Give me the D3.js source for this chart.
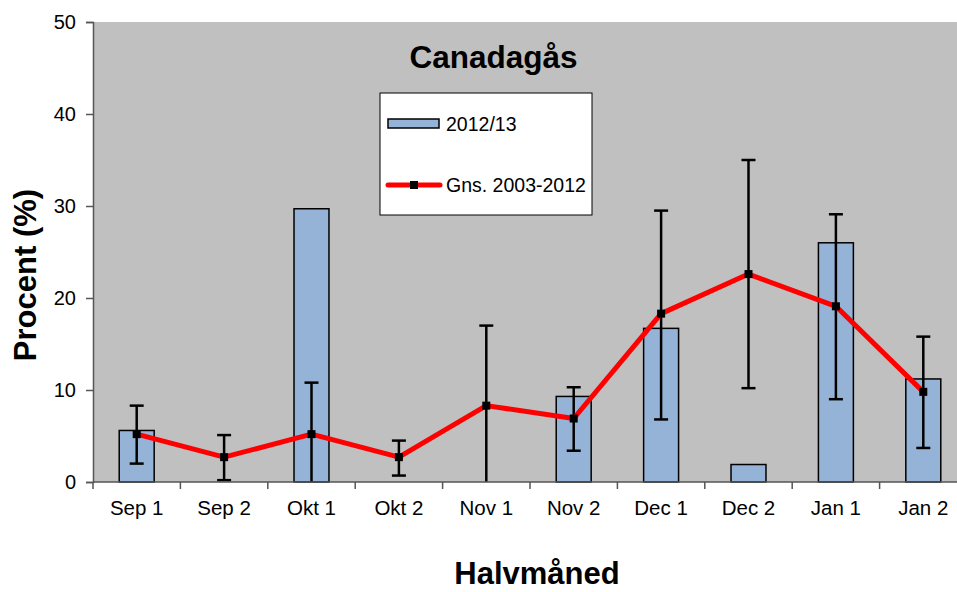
<!DOCTYPE html>
<html>
<head>
<meta charset="utf-8">
<script src="https://cdn.jsdelivr.net/npm/d3@7"></script>
<style>
  body { margin: 0; background: #fff; }
  svg { display: block; font-family: "Liberation Sans", Arial, sans-serif; }
</style>
</head>
<body>
<svg id="chart" width="957" height="592"></svg>
<script>
// chart data
const categories = ["Sep 1", "Sep 2", "Okt 1", "Okt 2", "Nov 1", "Nov 2", "Dec 1", "Dec 2", "Jan 1", "Jan 2"];
const season = [5.6, 0, 29.7, 0, 0, 9.3, 16.7, 1.9, 26.0, 11.2];
const average = [5.2, 2.7, 5.2, 2.7, 8.3, 6.9, 18.3, 22.6, 19.1, 9.8];
const errLow = [2.0, 0.2, 0.0, 0.7, 0.0, 3.4, 6.8, 10.2, 9.0, 3.7];
const errHigh = [8.3, 5.1, 10.8, 4.5, 17.0, 10.3, 29.5, 35.0, 29.1, 15.8];
const yTicks = [0, 10, 20, 30, 40, 50];

const svg = d3.select("#chart");
const margin = { left: 93, top: 22, right: -10, bottom: 110 };
const width = 957 - margin.left - margin.right;
const height = 592 - margin.top - margin.bottom;

const x = d3.scaleBand().domain(categories).range([0, width]).paddingInner(0.6).paddingOuter(0.3);
const xc = (c) => x(c) + x.bandwidth() / 2;
const y = d3.scaleLinear().domain([0, 50]).range([height, 0]);

const g = svg.append("g").attr("transform", `translate(${margin.left},${margin.top})`);

// plot background
g.append("rect")
  .attr("width", width)
  .attr("height", height)
  .attr("fill", "#c0c0c0");

// bars
g.selectAll(".bar")
  .data(categories)
  .enter()
  .filter((d, i) => season[i] > 0)
  .append("rect")
  .attr("class", "bar")
  .attr("x", (d) => x(d))
  .attr("width", x.bandwidth())
  .attr("y", (d) => y(season[categories.indexOf(d)]))
  .attr("height", (d) => height - y(season[categories.indexOf(d)]))
  .attr("fill", "#95b3d7")
  .attr("stroke", "#000")
  .attr("stroke-width", 1.5);

// error bars
const cap = 7;
const errs = g.selectAll(".err").data(categories).enter().append("g").attr("class", "err");
errs.append("line")
  .attr("x1", xc).attr("x2", xc)
  .attr("y1", (d, i) => y(errLow[i]))
  .attr("y2", (d, i) => y(errHigh[i]))
  .attr("stroke", "#000").attr("stroke-width", 2.5);
errs.append("line")
  .attr("x1", (d) => xc(d) - cap).attr("x2", (d) => xc(d) + cap)
  .attr("y1", (d, i) => y(errHigh[i])).attr("y2", (d, i) => y(errHigh[i]))
  .attr("stroke", "#000").attr("stroke-width", 2.5);
errs.filter((d, i) => errLow[i] > 0).append("line")
  .attr("x1", (d) => xc(d) - cap).attr("x2", (d) => xc(d) + cap)
  .attr("y1", (d) => y(errLow[categories.indexOf(d)]))
  .attr("y2", (d) => y(errLow[categories.indexOf(d)]))
  .attr("stroke", "#000").attr("stroke-width", 2.5);

// average line
const line = d3.line().x((d, i) => xc(categories[i])).y((d) => y(d));
g.append("path")
  .datum(average)
  .attr("d", line)
  .attr("fill", "none")
  .attr("stroke", "#ff0000")
  .attr("stroke-width", 5)
  .attr("stroke-linejoin", "round");

g.selectAll(".marker")
  .data(average)
  .enter()
  .append("rect")
  .attr("x", (d, i) => xc(categories[i]) - 4)
  .attr("y", (d) => y(d) - 4)
  .attr("width", 8)
  .attr("height", 8)
  .attr("fill", "#000");

// y axis
const yAxis = g.append("g").call(d3.axisLeft(y).tickValues(yTicks).tickSize(7).tickPadding(10));
yAxis.select(".domain").attr("stroke", "#555").attr("stroke-width", 1.5);
yAxis.selectAll(".tick line").attr("stroke", "#555").attr("stroke-width", 1.5);
yAxis.selectAll("text").attr("font-size", 20).attr("fill", "#000").attr("font-family", "Liberation Sans, Arial, sans-serif");

// x axis with ticks on category boundaries
const xAxisG = g.append("g").attr("transform", `translate(0,${height})`);
xAxisG.append("line").attr("x1", 0).attr("x2", width).attr("stroke", "#555").attr("stroke-width", 1.5);
const step = x.step();
xAxisG.selectAll(".xt")
  .data(d3.range(categories.length + 1))
  .enter()
  .append("line")
  .attr("x1", (i) => i * step).attr("x2", (i) => i * step)
  .attr("y1", 0).attr("y2", 7)
  .attr("stroke", "#555").attr("stroke-width", 1.5);
xAxisG.selectAll(".xl")
  .data(categories)
  .enter()
  .append("text")
  .attr("x", xc)
  .attr("y", 33)
  .attr("text-anchor", "middle")
  .attr("font-size", 20.5)
  .text((d) => d);

// title
g.append("text")
  .attr("x", 493.5 - margin.left)
  .attr("y", 68 - margin.top)
  .attr("text-anchor", "middle")
  .attr("font-size", 31.5)
  .attr("font-weight", "bold")
  .text("Canadagås");

// legend
const lg = svg.append("g").attr("transform", "translate(380,93)");
lg.append("rect").attr("width", 212).attr("height", 122).attr("fill", "#fff").attr("stroke", "#000").attr("stroke-width", 1);
lg.append("rect").attr("x", 8).attr("y", 26).attr("width", 51).attr("height", 9)
  .attr("fill", "#95b3d7").attr("stroke", "#000").attr("stroke-width", 1.5);
lg.append("text").attr("x", 66).attr("y", 38).attr("font-size", 19.5).text("2012/13");
lg.append("line").attr("x1", 8).attr("x2", 60).attr("y1", 92).attr("y2", 92)
  .attr("stroke", "#ff0000").attr("stroke-width", 5).attr("stroke-linecap", "round");
lg.append("rect").attr("x", 30).attr("y", 88).attr("width", 8).attr("height", 8).attr("fill", "#000");
lg.append("text").attr("x", 66).attr("y", 99).attr("font-size", 19.5).text("Gns. 2003-2012");

// axis titles
svg.append("text")
  .attr("x", 537)
  .attr("y", 584)
  .attr("text-anchor", "middle")
  .attr("font-size", 31)
  .attr("font-weight", "bold")
  .text("Halvmåned");

svg.append("text")
  .attr("transform", "translate(36,275) rotate(-90)")
  .attr("text-anchor", "middle")
  .attr("font-size", 31)
  .attr("font-weight", "bold")
  .text("Procent (%)");
</script>
</body>
</html>
